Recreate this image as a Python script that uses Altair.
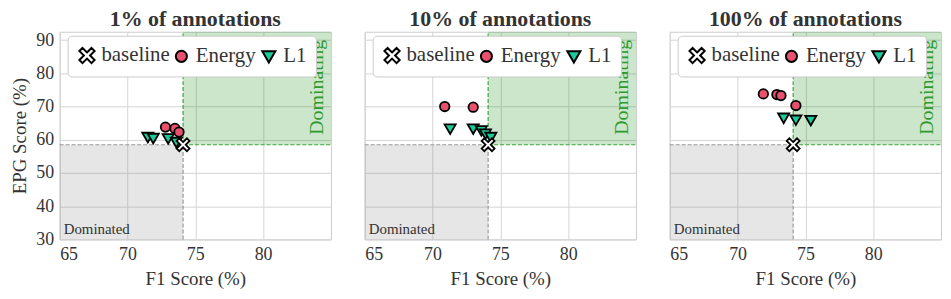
import altair as alt
import pandas as pd

# ---------------- data ----------------
panel_titles = ["1% of annotations", "10% of annotations", "100% of annotations"]
methods = ["baseline", "Energy", "L1"]

x_domain = [65, 85]
y_domain = [30, 92.5]
x_ticks = [65, 70, 75, 80]
y_ticks = [30, 40, 50, 60, 70, 80, 90]

baseline_f1 = 74.1
baseline_epg = 58.5

energy_f1 = [
    [72.8, 73.5, 73.8],
    [70.9, 73.0],
    [71.9, 72.9, 73.2, 74.3],
]
energy_epg = [
    [63.8, 63.4, 62.3],
    [70.0, 69.8],
    [73.8, 73.6, 73.3, 70.3],
]
l1_f1 = [
    [71.5, 71.9, 73.0, 73.6],
    [71.3, 73.0, 73.6, 73.9, 74.3],
    [73.4, 74.3, 75.4],
]
l1_epg = [
    [60.8, 60.5, 60.4, 59.3],
    [63.3, 63.3, 62.8, 61.8, 60.8],
    [66.6, 66.0, 65.9],
]

region_labels = ["Dominated", "Dominating"]

FONT = "Liberation Serif"
PINK = "#e8506e"
TEAL = "#1cc99a"
# marker outlines in the unit box (-1..1)
X_PATH = ("M0,-0.38 L0.55,-0.93 L0.93,-0.55 L0.38,0 L0.93,0.55 L0.55,0.93 "
          "L0,0.38 L-0.55,0.93 L-0.93,0.55 L-0.38,0 L-0.93,-0.55 L-0.55,-0.93 Z")
CIRCLE_PATH = "M0.68,0 A0.68,0.68 0 1,1 -0.68,0 A0.68,0.68 0 1,1 0.68,0 Z"
TRI_PATH = "M-0.8,-0.62 L0.8,-0.62 L0,0.76 Z"


def panel(i, show_y):
    rows = []
    for f, e in zip(energy_f1[i], energy_epg[i]):
        rows.append({"x": f, "y": e, "method": "Energy"})
    for f, e in zip(l1_f1[i], l1_epg[i]):
        rows.append({"x": f, "y": e, "method": "L1"})
    rows.append({"x": baseline_f1, "y": baseline_epg, "method": "baseline"})
    pts = pd.DataFrame(rows)
    pts["order"] = range(len(pts))

    xs = alt.Scale(domain=x_domain, nice=False, zero=False)
    ys = alt.Scale(domain=y_domain, nice=False, zero=False)
    xax = alt.Axis(values=x_ticks, title="F1 Score (%)", grid=True)
    if show_y:
        yax = alt.Axis(values=y_ticks, title="EPG Score (%)", grid=True)
    else:
        yax = alt.Axis(values=y_ticks, title=None, labels=False, ticks=False,
                       domain=False, grid=True, minExtent=0, maxExtent=0)

    def X():
        return alt.X("x:Q", scale=xs, axis=xax)

    def Y():
        return alt.Y("y:Q", scale=ys, axis=yax)

    dom = pd.DataFrame({"x": [x_domain[0]], "x2": [baseline_f1],
                        "y": [y_domain[0]], "y2": [baseline_epg]})
    domg = pd.DataFrame({"x": [baseline_f1], "x2": [x_domain[1]],
                         "y": [baseline_epg], "y2": [y_domain[1]]})

    gray_rect = alt.Chart(dom).mark_rect(fill="#808080", opacity=0.2).encode(
        x=X(), x2="x2:Q", y=Y(), y2="y2:Q")
    green_rect = alt.Chart(domg).mark_rect(fill="#008000", opacity=0.2).encode(
        x=X(), x2="x2:Q", y=Y(), y2="y2:Q")

    gray_lines = pd.DataFrame({
        "x": [x_domain[0], baseline_f1], "x2": [baseline_f1, baseline_f1],
        "y": [baseline_epg, y_domain[0]], "y2": [baseline_epg, baseline_epg]})
    green_lines = pd.DataFrame({
        "x": [baseline_f1, baseline_f1], "x2": [x_domain[1], baseline_f1],
        "y": [baseline_epg, baseline_epg], "y2": [baseline_epg, y_domain[1]]})
    gray_rule = alt.Chart(gray_lines).mark_rule(
        color="#9a9a9a", strokeDash=[4, 2], strokeWidth=1.2).encode(
        x=X(), x2="x2:Q", y=Y(), y2="y2:Q")
    green_rule = alt.Chart(green_lines).mark_rule(
        color="#3aa63a", strokeDash=[4, 2], strokeWidth=1.2).encode(
        x=X(), x2="x2:Q", y=Y(), y2="y2:Q")

    t_dom = alt.Chart(pd.DataFrame({"x": [x_domain[0]], "y": [y_domain[0]],
                                    "t": [region_labels[0]]})).mark_text(
        align="left", baseline="alphabetic", dx=4, dy=-5, font=FONT,
        fontSize=15, color="#333333").encode(x=X(), y=Y(), text="t:N")
    t_domg = alt.Chart(pd.DataFrame({"x": [x_domain[1]], "y": [baseline_epg],
                                     "t": [region_labels[1]]})).mark_text(
        align="left", baseline="bottom", angle=270, dx=10, dy=-4, font=FONT,
        fontSize=20, color="#2e9a2e", clip=True).encode(x=X(), y=Y(), text="t:N")

    leg = dict(title=None, orient="none", legendX=8, legendY=4,
               direction="horizontal", labelFont=FONT,
               labelFontSize=21, labelColor="#333333",
               symbolSize=270, symbolStrokeWidth=2, symbolOpacity=1,
               padding=9, columnPadding=1, labelOffset=4,
               fillColor="white", strokeColor="#cccccc", cornerRadius=4)

    points = alt.Chart(pts).mark_point(
        filled=True, opacity=1, size=196).encode(
        x=X(),
        y=Y(),
        color=alt.Color("method:N",
                        scale=alt.Scale(domain=methods, range=["white", PINK, TEAL]),
                        legend=alt.Legend(**leg)),
        shape=alt.Shape("method:N",
                        scale=alt.Scale(domain=methods,
                                        range=[X_PATH, CIRCLE_PATH, TRI_PATH]),
                        legend=alt.Legend(**leg)),
        stroke=alt.value("black"),
        strokeWidth=alt.value(1.8),
        order=alt.Order("order:Q"),
    )

    layer = alt.layer(gray_rect, green_rect, gray_rule, green_rule,
                      t_dom, t_domg, points).properties(
        width=273, height=209,
        title=alt.Title(panel_titles[i], font=FONT, fontSize=22,
                        fontWeight="bold", color="#333333", anchor="middle",
                        offset=0),
    )
    return layer


chart = alt.hconcat(panel(0, True), panel(1, False), panel(2, False),
                    spacing=30).resolve_scale(
    color="independent", shape="independent"
).resolve_legend(
    color="independent", shape="independent"
).properties(
    padding={"left": 2, "top": -2, "right": 0, "bottom": 0},
    background="white",
).configure_view(
    stroke="#cccccc", strokeWidth=1
).configure_axis(
    labelFont=FONT, labelFontSize=18, labelColor="#333333",
    titleFont=FONT, titleFontSize=19, titleColor="#333333", titleFontWeight="normal",
    gridColor="#d5d5d5", gridWidth=1, domain=False, ticks=False,
    labelPadding=6, titlePadding=6,
)

chart.save("out.html", embed_options={"renderer": "svg", "actions": False})
